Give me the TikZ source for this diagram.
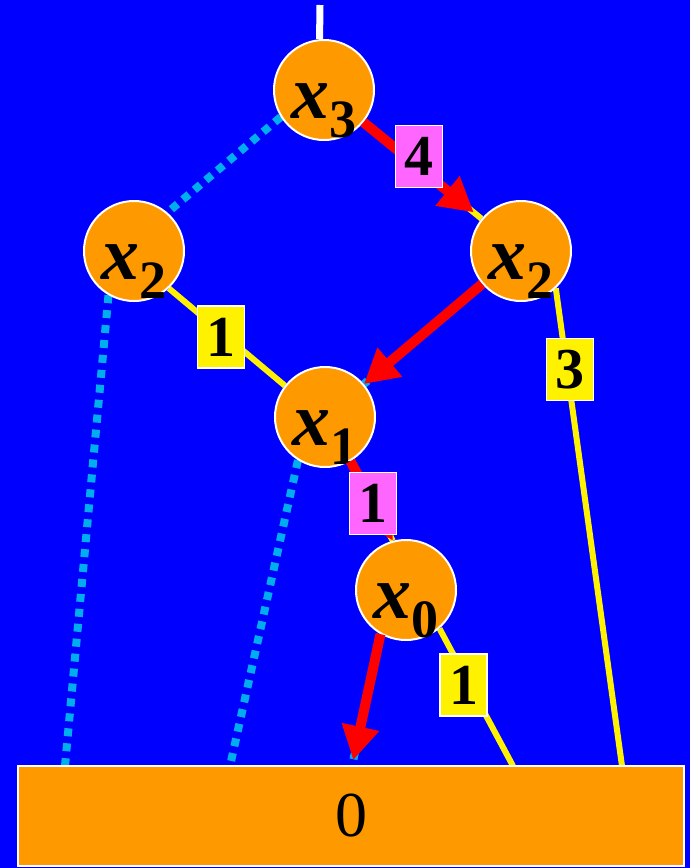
\documentclass[tikz,border=0pt]{standalone}
\usepackage{fontspec}
\setmainfont{Liberation Serif}
\usetikzlibrary{arrows.meta, backgrounds}

\definecolor{bddblue}{RGB}{0,0,255}
\definecolor{bddorange}{RGB}{255,153,0}
\definecolor{bddpink}{RGB}{255,102,255}

% variable name with a big subscript, baseline below the circle centre
\newcommand{\varlbl}[2]{\smash{\raisebox{-28pt}{\fontsize{76}{76}\selectfont\bfseries\itshape #1\raisebox{-19pt}{\fontsize{54}{54}\selectfont\upshape #2}}}}

\begin{document}
\begin{tikzpicture}[
    x=1pt, y=-1pt,
    varnode/.style={
      circle, draw=white, line width=2pt, fill=bddorange,
      minimum size=100pt, inner sep=0pt
    },
    termbox/.style={
      rectangle, draw=white, line width=2pt, fill=bddorange,
      minimum width=666pt, minimum height=100pt, inner sep=0pt,
      font=\fontsize{64}{64}\selectfont
    },
    wbox/.style={
      rectangle, draw=white, line width=1.5pt,
      minimum width=47pt, minimum height=62pt, inner sep=0pt,
      font=\fontsize{58}{58}\selectfont\bfseries
    },
    hiwt/.style={wbox, fill=yellow},
    pathwt/.style={wbox, fill=bddpink},
    hiedge/.style={draw=yellow, line width=6pt},
    loedge/.style={draw=cyan, line width=8pt, dash pattern=on 8pt off 7pt},
    rootedge/.style={draw=white, line width=7pt},
    patharr/.style={draw=red, line width=10pt, -{Triangle[length=34pt, width=36pt]}},
  ]

  \useasboundingbox (0,0) rectangle (690,868);
  \begin{pgfonlayer}{background}
    \fill[bddblue] (0,0) rectangle (690,868);
  \end{pgfonlayer}

  % Nodes
  \node[varnode] (x3)  at (324,90)  {\varlbl{x}{3}};
  \node[varnode] (x2l) at (134,251) {\varlbl{x}{2}};
  \node[varnode] (x2r) at (521,251) {\varlbl{x}{2}};
  \node[varnode] (x1)  at (325,417) {\varlbl{x}{1}};
  \node[varnode] (x0)  at (406,590) {\varlbl{x}{0}};
  \node[termbox] (zero) at (351,816) {0};

  % free ends: root stub and the feet on the terminal box
  \coordinate (root) at (320,5);
  \coordinate (t1) at (65,766);
  \coordinate (t2) at (230,766);
  \coordinate (t3) at (352,766);
  \coordinate (t4) at (513,766);
  \coordinate (t5) at (622,766);

  % Edges behind the circles
  \begin{pgfonlayer}{background}
    \draw[rootedge] (root) -- (x3.95);
    % low edges
    \draw[loedge] (x3.212) -- (x2l.49);
    \draw[loedge] (x2l.240) -- (t1);
    \draw[loedge] (x2r) -- (x1);
    \draw[loedge] (x1.238) -- (t2);
    \draw[loedge] (x0.240) -- (t3);
    % high edges
    \draw[hiedge] (x3) -- (x2r);
    \draw[hiedge] (x2l.-47) -- (x1.142)
      node[hiwt, pos=.45, yshift=-5pt] (w21) {1};
    \draw[hiedge] (x2r.313) -- (t5)
      node[hiwt, pos=.17, xshift=3pt] (w23) {3};
    \draw[hiedge] (x1.300) -- (x0.105);
    \draw[hiedge] (x0.311) -- (t4)
      node[hiwt, pos=.41, xshift=-6pt] (w01) {1};
  \end{pgfonlayer}

  % Shortest path in red
  \draw[patharr, shorten >=10pt] (x3) -- (x2r)
    node[pathwt, pos=.47, yshift=11pt] (p4) {4};
  \draw[patharr] (x2r) -- (x1);
  \draw[patharr] (x1.300) -- (x0.105)
    node[pathwt, pos=.53] (p1) {1};
  \draw[patharr, shorten >=6pt] (x0.240) -- (t3);

\end{tikzpicture}
\end{document}
